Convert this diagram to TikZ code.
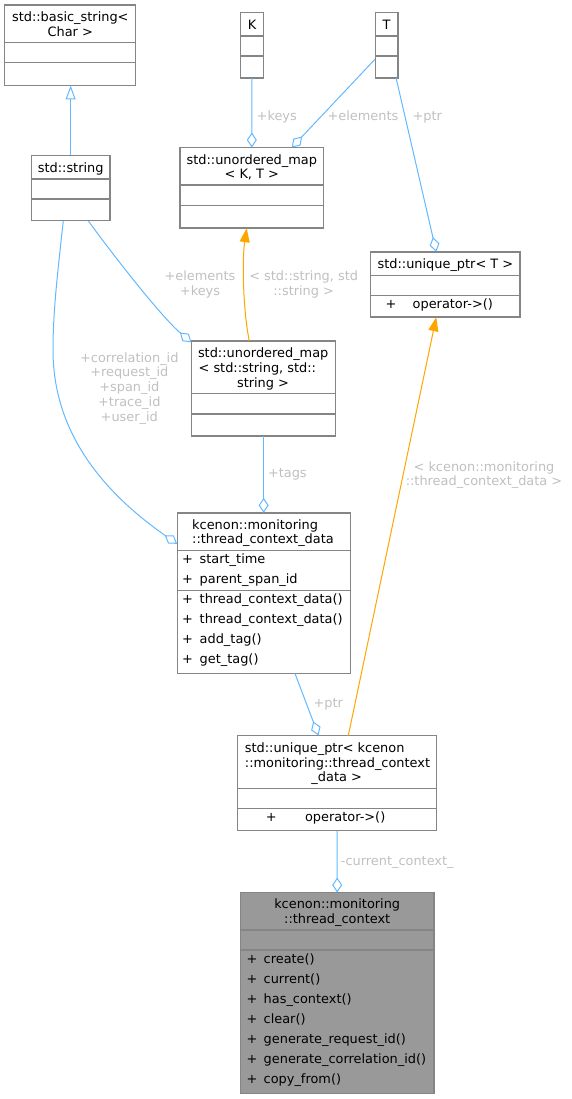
\documentclass[tikz,border=0pt]{standalone}
\usepackage{fontspec}
\setmainfont{DejaVu Sans}
\usetikzlibrary{arrows.meta, fit}

\definecolor{boxgray}{HTML}{858585}
\definecolor{boxfill}{HTML}{999999}
\definecolor{edgeblue}{HTML}{63B8FF}
\definecolor{edgeorange}{HTML}{FFA500}
\definecolor{labelgray}{HTML}{C0C0C0}

\begin{document}
\begin{tikzpicture}[x=1pt, y=-1pt,
	every node/.style={font=\fontsize{12.9}{14.7}\selectfont, inner sep=0pt},
	box/.style={draw=boxgray, line width=1.2pt},
	title/.style={anchor=base},
	member/.style={anchor=base west},
	tag/.style={text=labelgray, align=center},
	aggr/.style={draw=edgeblue, line width=1pt, -{Diamond[open, length=15pt, width=10pt]}},
	inherit/.style={draw=edgeblue, line width=1pt, -{Triangle[open, length=14pt, width=10pt]}},
	inst/.style={draw=edgeorange, line width=1pt, -{Triangle[length=14pt, width=10pt]}}]
	\useasboundingbox (0, 0) rectangle (571, 1099);

	% \drawbox#name#x1#y1#x2#y2#div1#div2#fill
	\def\drawbox#1#2#3#4#5#6#7#8{
		\filldraw[box, fill=#8] (#2, #3) rectangle (#4, #5);
		\draw[box] (#2, #6) -- (#4, #6) (#2, #7) -- (#4, #7);
		\node[fit={(#2, #3) (#4, #5)}] (#1) {};
	}

	% classes
	\drawbox{basicstr}{4.7}{5}{135.8}{85.3}{42.7}{62.7}{white}
	\drawbox{k}{240.7}{12.7}{263.3}{78}{36}{56}{white}
	\drawbox{t}{375.1}{12.7}{398}{78}{36}{56}{white}
	\drawbox{str}{31.3}{155.3}{110}{220.7}{179}{199}{white}
	\drawbox{mapkt}{179.9}{147.7}{323.7}{228}{185}{205.3}{white}
	\drawbox{uptrt}{370.7}{252}{520}{317}{275.3}{295.3}{white}
	\drawbox{mapss}{191.5}{341}{335.8}{436}{393.7}{414}{white}
	\drawbox{tcdata}{177.3}{513}{350.7}{673.3}{550.7}{590.3}{white}
	\drawbox{uptr}{237.7}{735.7}{436.7}{830.7}{788.7}{808.7}{white}
	\drawbox{tctx}{240.3}{892.7}{434}{1093.3}{930}{950}{boxfill}

	% titles
	\node[title] (basicstr-l1) at (70.3, 21.2) {std::basic\_string<};
	\node[title] (basicstr-l2) at (70.3, 36.2) {Char >};
	\node[title] (k-l1) at (252, 29.5) {K};
	\node[title] (t-l1) at (386.6, 29.5) {T};
	\node[title] (str-l1) at (70.7, 172.2) {std::string};
	\node[title] (mapkt-l1) at (251.8, 164.5) {std::unordered\_map};
	\node[title] (mapkt-l2) at (251.8, 178.5) {< K, T >};
	\node[title] (uptrt-l1) at (445.4, 268.8) {std::unique\_ptr< T >};
	\node[member] (mapss-l1) at (197.8, 357.8) {std::unordered\_map};
	\node[member] (mapss-l2) at (198.4, 372.8) {< std::string, std::};
	\node[title] (mapss-l3) at (263, 387.2) {string >};
	\node[member] (tcdata-l1) at (192, 529.2) {kcenon::monitoring};
	\node[member] (tcdata-l2) at (192, 543.8) {::thread\_context\_data};
	\node[member] (uptr-l1) at (244.7, 752.8) {std::unique\_ptr< kcenon};
	\node[member] (uptr-l2) at (244.7, 767.2) {::monitoring::thread\_context};
	\node[title] (uptr-l3) at (336.7, 781.8) {\_data >};
	\node[title] (tctx-l1) at (337.2, 908.8) {kcenon::monitoring};
	\node[title] (tctx-l2) at (337.2, 923.5) {::thread\_context};

	% members
	\node[member] (uptrt-p0) at (385.5, 308.8) {+};
	\node[member] (uptrt-m0) at (412.5, 308.8) {operator->()};
	\node[member] (uptr-p0) at (265.7, 821.8) {+};
	\node[member] (uptr-m0) at (304.9, 821.8) {operator->()};
	\foreach \m [count=\i from 0] in {start\_time, parent\_span\_id, thread\_context\_data(), thread\_context\_data(), add\_tag(), get\_tag()} {
		\node[member] (tcdata-p\i) at (182, 563.8 + 20 * \i) {+};
		\node[member] (tcdata-m\i) at (199.5, 563.8 + 20 * \i) {\m};
	}
	\foreach \m [count=\i from 0] in {create(), current(), has\_context(), clear(), generate\_request\_id(), generate\_correlation\_id(), copy\_from()} {
		\node[member] (tctx-p\i) at (246.5, 963.8 + 20 * \i) {+};
		\node[member] (tctx-m\i) at (263.5, 963.8 + 20 * \i) {\m};
	}

	% relations
	\draw[inherit] (str.north) -- (str.north |- basicstr.south);
	\draw[aggr] (k.south) -- (mapkt.north);
	\draw[aggr] ([yshift=-14pt]t.west) -- ([xshift=40pt]mapkt.north);
	\draw[aggr] ([xshift=9.6pt]t.south) -- ([xshift=-9.1pt]uptrt.north);
	\draw[aggr] ([xshift=17.7pt]str.south) .. controls (111.5, 253) and (161, 316.5) .. ([yshift=-1.5pt]mapss.north west);
	\draw[aggr] ([xshift=-7.4pt]str.south) .. controls (58, 270) and (53, 310) .. (53, 350) .. controls (53, 430) and (100, 490) .. ([yshift=-31pt]tcdata.north west);
	\draw[inst] ([xshift=-14.4pt]mapss.north) .. controls (243, 310) and (242, 260) .. ([xshift=-5.1pt]mapkt.south);
	\draw[aggr] (mapss.south) -- (mapss.south |- tcdata.north);
	\draw[aggr] ([xshift=31pt]tcdata.south) -- ([xshift=-18.7pt]uptr.north);
	\draw[inst] ([xshift=11.1pt]uptr.north) -- ([xshift=-9.1pt]uptrt.south);
	\draw[aggr] (uptr.south) -- (tctx.north);

	% labels
	\node[tag, anchor=base west] (lbl-keys) at (256.5, 120.2) {+keys};
	\node[tag, anchor=base] (lbl-elem) at (363, 120.2) {+elements};
	\node[tag, anchor=base west] (lbl-ptrt) at (412.3, 120.2) {+ptr};
	\node[tag] (lbl-strmap) at (200, 284.4) {+elements\\+keys};
	\node[tag] (lbl-mapinst) at (303.7, 284.4) {< std::string, std\\::string >};
	\node[tag] (lbl-ids) at (129.3, 388.3) {+correlation\_id\\+request\_id\\+span\_id\\+trace\_id\\+user\_id};
	\node[tag, anchor=base west] (lbl-tags) at (267.8, 477.8) {+tags};
	\node[tag] (lbl-uptrinst) at (484, 475) {< kcenon::monitoring\\::thread\_context\_data >};
	\node[tag, anchor=base west] (lbl-ptr) at (313.3, 707.8) {+ptr};
	\node[tag, anchor=base west] (lbl-ctx) at (340.7, 865.5) {-current\_context\_};
\end{tikzpicture}
\end{document}
